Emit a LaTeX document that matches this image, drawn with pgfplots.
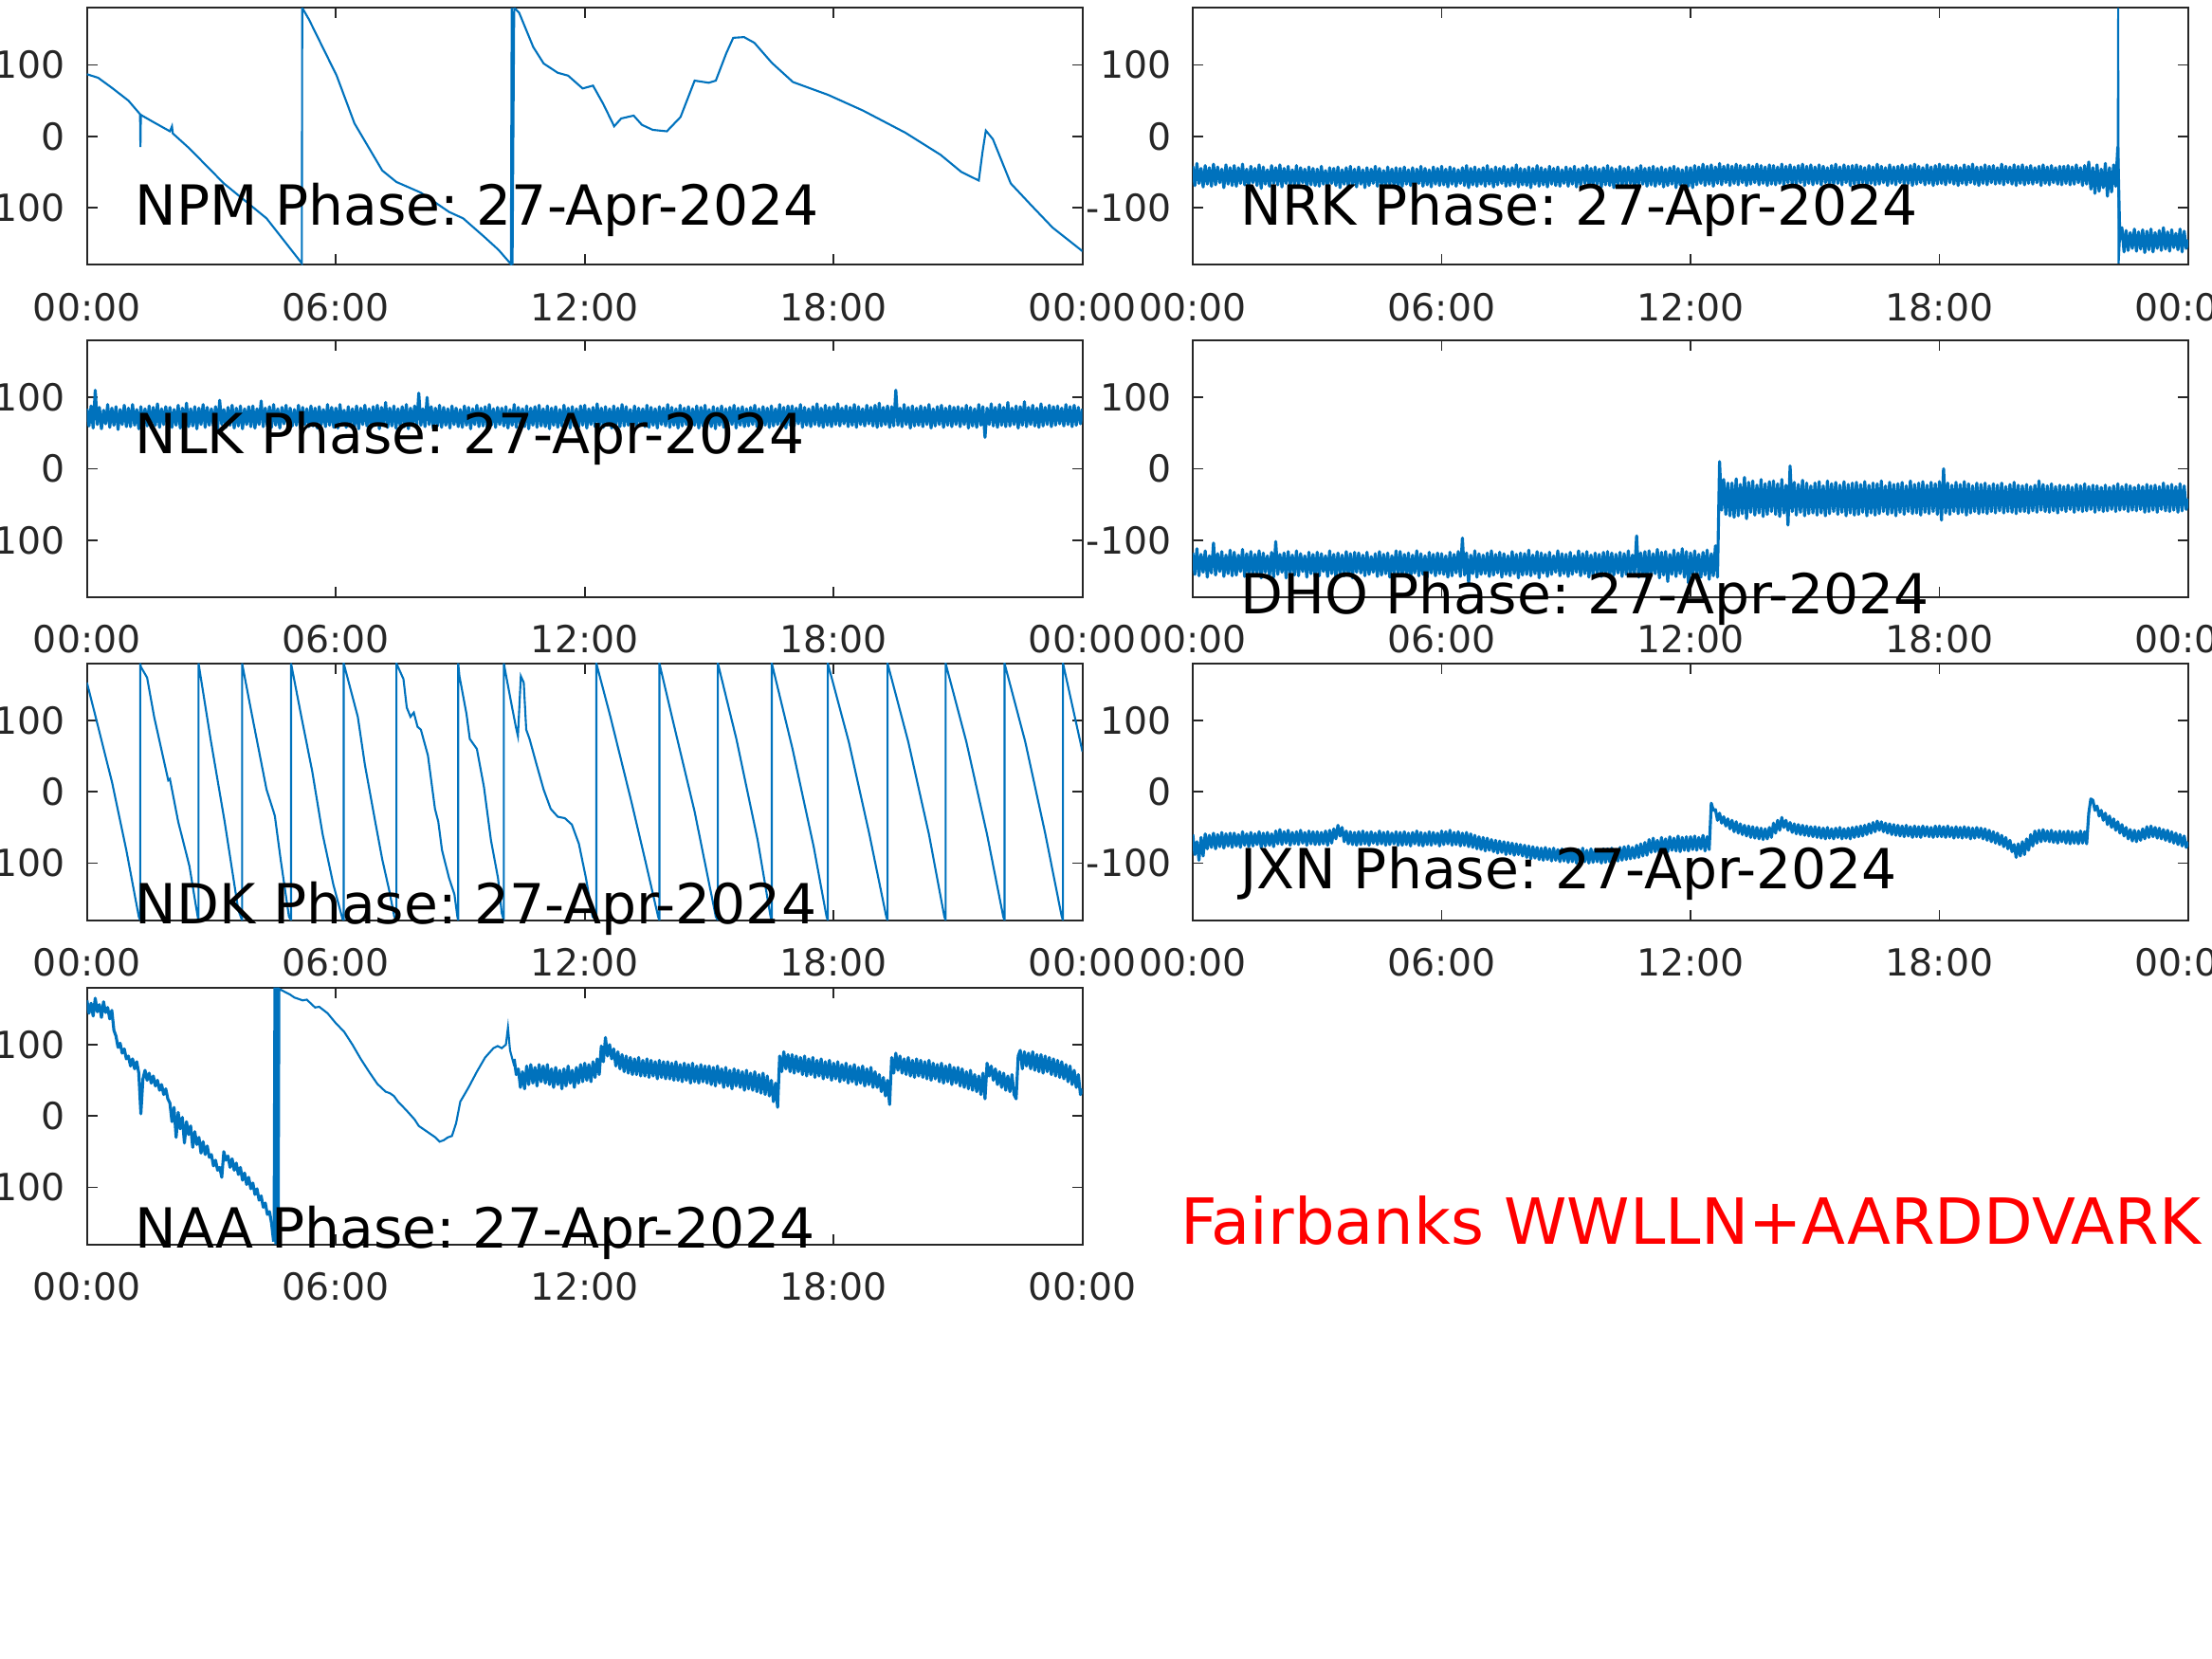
\documentclass[border=0pt]{standalone}
\usepackage{fontspec}
\setmainfont{DejaVu Sans}
\usepackage{pgfplots}
\pgfplotsset{compat=1.18}
\frenchspacing

\definecolor{mblue}{RGB}{0,114,189}
\definecolor{axgray}{RGB}{38,38,38}
\newcommand{\ticksfont}{\fontsize{11.2}{13}\selectfont}
\newcommand{\stationfont}{\fontsize{16.6}{19}\selectfont}

\pgfplotsset{
  phase/.style={
    scale only axis, width=10.50cm, height=2.71cm, anchor=south west,
    xmin=0, xmax=24, ymin=-180, ymax=180,
    xtick={0,6,12,18,24}, xticklabels={00:00,06:00,12:00,18:00,00:00},
    ytick={-100,0,100}, yticklabels={-100,0,100},
    tick align=inside, major tick length=0.11cm,
    axis line style={draw=axgray, line width=0.5pt},
    tick style={draw=axgray, line width=0.5pt},
    ticklabel style={font=\ticksfont, text=axgray, inner sep=0pt},
    xticklabel style={yshift=-0.29cm},
    yticklabel style={xshift=-0.22cm},
    clip mode=individual,
  },
  sig/.style={color=mblue, line width=0.6pt},
  dense/.style={color=mblue, line width=0.9pt, line join=round},
}

\begin{document}
\begin{tikzpicture}
\path[use as bounding box] (0,0) rectangle (23.33cm,17.50cm);

% NPM
\begin{axis}[phase, at={(0.917cm,14.707cm)}]
\addplot[sig] coordinates {(0,87)(0.27,82)(0.6,68)(1.0,50)(1.28,31)(1.29,-15)(1.30,30)(1.6,20)(2.0,7)(2.05,14)(2.07,4)(2.47,-17)(3.3,-66)(4.33,-115)(5.18,-178)(5.19,180)(5.35,164)(6.02,85)(6.45,18)(7.12,-48)(7.46,-64)(8.05,-79)(8.73,-106)(9.07,-115)(9.58,-141)(9.92,-159)(10.22,-179)(10.24,180)(10.26,-180)(10.3,180)(10.42,173)(10.76,125)(11.01,102)(11.35,89)(11.6,85)(11.95,67)(12.2,71)(12.45,45)(12.71,14)(12.88,25)(13.18,29)(13.38,16)(13.64,9)(13.98,7)(14.31,27)(14.65,78)(14.99,75)(15.16,78)(15.41,116)(15.58,138)(15.84,139)(16.09,131)(16.51,103)(17.02,76)(17.87,58)(18.71,36)(19.73,5)(20.58,-26)(21.08,-50)(21.5,-62)(21.59,-22)(21.67,8)(21.84,-4)(22.27,-66)(22.77,-97)(23.28,-128)(24,-161)};
\node[anchor=base west, inner sep=0pt, font=\stationfont] at (axis cs:1.15,-125) {NPM Phase: 27-Apr-2024};
\end{axis}

% NRK, one sample every 0.05 h
\begin{axis}[phase, at={(12.58cm,14.707cm)}]
\addplot[dense] table[row sep=\\, header=false, y index=0, x expr=\coordindex/20] {
-42\\ -69\\ -38\\ -66\\ -45\\ -71\\ -41\\ -67\\ -44\\ -70\\ -39\\ -68\\ -43\\ -65\\ -46\\ -72\\ -40\\ -67\\ -44\\ -69\\
-41\\ -70\\ -44\\ -66\\ -39\\ -68\\ -46\\ -71\\ -42\\ -65\\ -45\\ -69\\ -40\\ -73\\ -43\\ -67\\ -47\\ -70\\ -41\\ -66\\
-44\\ -68\\ -40\\ -71\\ -45\\ -66\\ -42\\ -69\\ -47\\ -67\\ -41\\ -70\\ -44\\ -65\\ -46\\ -72\\ -43\\ -68\\ -45\\ -69\\
-46\\ -70\\ -42\\ -67\\ -48\\ -71\\ -44\\ -66\\ -45\\ -69\\ -43\\ -72\\ -47\\ -67\\ -44\\ -70\\ -42\\ -68\\ -46\\ -71\\
-43\\ -67\\ -47\\ -72\\ -44\\ -69\\ -46\\ -66\\ -42\\ -70\\ -45\\ -68\\ -48\\ -71\\ -43\\ -67\\ -46\\ -69\\ -44\\ -72\\
-45\\ -70\\ -43\\ -67\\ -47\\ -69\\ -44\\ -72\\ -46\\ -66\\ -42\\ -70\\ -45\\ -68\\ -47\\ -71\\ -43\\ -67\\ -45\\ -69\\
-42\\ -68\\ -46\\ -71\\ -43\\ -67\\ -45\\ -70\\ -47\\ -66\\ -44\\ -69\\ -41\\ -72\\ -45\\ -68\\ -43\\ -70\\ -46\\ -67\\
-44\\ -70\\ -41\\ -67\\ -46\\ -71\\ -43\\ -68\\ -45\\ -66\\ -42\\ -70\\ -46\\ -69\\ -44\\ -67\\ -40\\ -71\\ -45\\ -68\\
-46\\ -69\\ -43\\ -72\\ -45\\ -67\\ -41\\ -70\\ -44\\ -68\\ -46\\ -71\\ -42\\ -67\\ -45\\ -69\\ -43\\ -70\\ -47\\ -66\\
-43\\ -70\\ -45\\ -67\\ -42\\ -71\\ -46\\ -68\\ -44\\ -66\\ -41\\ -70\\ -45\\ -69\\ -43\\ -67\\ -46\\ -71\\ -44\\ -68\\
-41\\ -69\\ -44\\ -72\\ -46\\ -67\\ -42\\ -70\\ -45\\ -68\\ -43\\ -66\\ -47\\ -71\\ -44\\ -69\\ -41\\ -67\\ -45\\ -70\\
-44\\ -68\\ -42\\ -70\\ -45\\ -67\\ -43\\ -71\\ -46\\ -69\\ -44\\ -67\\ -42\\ -72\\ -45\\ -68\\ -47\\ -73\\ -43\\ -70\\
-44\\ -72\\ -41\\ -68\\ -43\\ -66\\ -39\\ -69\\ -42\\ -67\\ -40\\ -70\\ -43\\ -66\\ -38\\ -68\\ -42\\ -65\\ -40\\ -69\\
-42\\ -66\\ -39\\ -68\\ -41\\ -65\\ -43\\ -69\\ -40\\ -67\\ -42\\ -65\\ -39\\ -68\\ -41\\ -66\\ -43\\ -69\\ -40\\ -67\\
-41\\ -68\\ -43\\ -66\\ -39\\ -69\\ -42\\ -65\\ -40\\ -67\\ -43\\ -68\\ -41\\ -65\\ -39\\ -69\\ -42\\ -66\\ -40\\ -68\\
-43\\ -66\\ -40\\ -68\\ -42\\ -65\\ -44\\ -69\\ -41\\ -67\\ -39\\ -66\\ -43\\ -68\\ -40\\ -65\\ -42\\ -69\\ -41\\ -67\\
-40\\ -67\\ -42\\ -65\\ -44\\ -69\\ -41\\ -66\\ -43\\ -68\\ -39\\ -67\\ -42\\ -65\\ -44\\ -69\\ -40\\ -66\\ -43\\ -68\\
-42\\ -65\\ -40\\ -68\\ -43\\ -66\\ -41\\ -69\\ -39\\ -67\\ -42\\ -65\\ -44\\ -68\\ -40\\ -66\\ -43\\ -69\\ -41\\ -67\\
-39\\ -66\\ -42\\ -68\\ -40\\ -65\\ -43\\ -67\\ -41\\ -69\\ -44\\ -66\\ -40\\ -68\\ -42\\ -65\\ -39\\ -67\\ -43\\ -69\\
-43\\ -66\\ -40\\ -68\\ -42\\ -65\\ -41\\ -67\\ -44\\ -66\\ -39\\ -68\\ -42\\ -65\\ -43\\ -67\\ -40\\ -69\\ -42\\ -66\\
-40\\ -68\\ -43\\ -66\\ -41\\ -67\\ -44\\ -65\\ -42\\ -69\\ -40\\ -66\\ -43\\ -68\\ -41\\ -65\\ -44\\ -67\\ -42\\ -68\\
-42\\ -66\\ -41\\ -68\\ -43\\ -67\\ -40\\ -65\\ -44\\ -69\\ -41\\ -67\\ -36\\ -74\\ -44\\ -80\\ -40\\ -77\\ -46\\ -72\\
-38\\ -84\\ -44\\ -78\\ -40\\ -70\\ -15\\ -145\\ -128\\ -162\\ -132\\ -160\\ -135\\ -157\\ -130\\ -161\\ -134\\ -158\\ -131\\ -163\\
-133\\ -159\\ -130\\ -162\\ -135\\ -157\\ -132\\ -160\\ -128\\ -158\\ -134\\ -161\\ -131\\ -156\\ -136\\ -159\\ -130\\ -162\\ -133\\ -157\\
-145\\
};
\addplot[sig] coordinates {(22.30,-15)(22.31,180)(22.32,-178)(22.35,-145)};
\node[anchor=base west, inner sep=0pt, font=\stationfont] at (axis cs:1.14,-125) {NRK Phase: 27-Apr-2024};
\end{axis}

% NLK, one sample every 0.05 h
\begin{axis}[phase, at={(0.917cm,11.20cm)}]
\addplot[dense] table[row sep=\\, header=false, y index=0, x expr=\coordindex/20] {
84\\ 60\\ 88\\ 57\\ 110\\ 62\\ 86\\ 56\\ 82\\ 63\\ 90\\ 58\\ 85\\ 61\\ 87\\ 55\\ 83\\ 62\\ 89\\ 59\\
85\\ 59\\ 90\\ 61\\ 83\\ 56\\ 87\\ 62\\ 84\\ 60\\ 88\\ 57\\ 86\\ 61\\ 91\\ 58\\ 84\\ 62\\ 87\\ 60\\
86\\ 58\\ 83\\ 61\\ 89\\ 57\\ 85\\ 63\\ 92\\ 59\\ 84\\ 60\\ 87\\ 56\\ 85\\ 62\\ 90\\ 58\\ 86\\ 61\\
84\\ 60\\ 87\\ 55\\ 96\\ 62\\ 83\\ 58\\ 86\\ 61\\ 89\\ 57\\ 85\\ 60\\ 88\\ 56\\ 84\\ 62\\ 87\\ 59\\
88\\ 57\\ 84\\ 62\\ 95\\ 59\\ 85\\ 60\\ 87\\ 58\\ 90\\ 61\\ 84\\ 57\\ 86\\ 63\\ 89\\ 58\\ 85\\ 60\\
83\\ 61\\ 89\\ 56\\ 86\\ 62\\ 84\\ 59\\ 88\\ 60\\ 85\\ 57\\ 87\\ 62\\ 83\\ 59\\ 90\\ 61\\ 86\\ 58\\
85\\ 57\\ 90\\ 63\\ 82\\ 58\\ 87\\ 61\\ 84\\ 59\\ 88\\ 56\\ 85\\ 62\\ 89\\ 60\\ 84\\ 57\\ 87\\ 61\\
89\\ 56\\ 86\\ 62\\ 93\\ 58\\ 85\\ 60\\ 88\\ 57\\ 84\\ 61\\ 87\\ 59\\ 90\\ 56\\ 85\\ 62\\ 88\\ 60\\
106\\ 61\\ 84\\ 59\\ 100\\ 62\\ 87\\ 57\\ 85\\ 60\\ 89\\ 58\\ 86\\ 61\\ 84\\ 57\\ 88\\ 62\\ 85\\ 59\\
83\\ 58\\ 88\\ 61\\ 86\\ 56\\ 84\\ 62\\ 89\\ 59\\ 85\\ 60\\ 87\\ 57\\ 90\\ 61\\ 84\\ 58\\ 86\\ 62\\
85\\ 60\\ 87\\ 57\\ 83\\ 61\\ 90\\ 58\\ 86\\ 62\\ 84\\ 59\\ 88\\ 56\\ 85\\ 61\\ 87\\ 58\\ 89\\ 60\\
84\\ 59\\ 88\\ 56\\ 85\\ 61\\ 87\\ 58\\ 83\\ 60\\ 89\\ 62\\ 85\\ 57\\ 87\\ 60\\ 84\\ 58\\ 88\\ 61\\
89\\ 57\\ 84\\ 62\\ 86\\ 59\\ 91\\ 60\\ 85\\ 58\\ 87\\ 61\\ 84\\ 57\\ 88\\ 62\\ 85\\ 59\\ 90\\ 60\\
87\\ 61\\ 83\\ 57\\ 88\\ 60\\ 85\\ 62\\ 84\\ 59\\ 89\\ 58\\ 86\\ 61\\ 84\\ 57\\ 87\\ 62\\ 85\\ 60\\
90\\ 58\\ 86\\ 61\\ 84\\ 57\\ 89\\ 60\\ 85\\ 62\\ 87\\ 59\\ 84\\ 61\\ 88\\ 57\\ 86\\ 60\\ 89\\ 62\\
83\\ 59\\ 87\\ 56\\ 85\\ 61\\ 88\\ 58\\ 84\\ 60\\ 86\\ 62\\ 89\\ 57\\ 85\\ 61\\ 87\\ 59\\ 84\\ 60\\
86\\ 62\\ 89\\ 59\\ 84\\ 57\\ 87\\ 61\\ 85\\ 58\\ 88\\ 60\\ 84\\ 62\\ 90\\ 59\\ 86\\ 57\\ 88\\ 61\\
88\\ 60\\ 85\\ 63\\ 90\\ 58\\ 86\\ 61\\ 84\\ 59\\ 87\\ 62\\ 91\\ 60\\ 85\\ 58\\ 89\\ 61\\ 86\\ 59\\
87\\ 62\\ 91\\ 60\\ 85\\ 63\\ 88\\ 59\\ 86\\ 61\\ 90\\ 58\\ 87\\ 62\\ 84\\ 60\\ 89\\ 63\\ 86\\ 60\\
89\\ 58\\ 92\\ 60\\ 86\\ 62\\ 88\\ 58\\ 87\\ 60\\ 110\\ 61\\ 85\\ 59\\ 90\\ 62\\ 86\\ 57\\ 88\\ 60\\
85\\ 61\\ 88\\ 59\\ 86\\ 62\\ 90\\ 57\\ 84\\ 60\\ 87\\ 62\\ 89\\ 58\\ 85\\ 61\\ 88\\ 59\\ 86\\ 62\\
87\\ 59\\ 85\\ 62\\ 89\\ 57\\ 86\\ 60\\ 84\\ 58\\ 90\\ 61\\ 87\\ 44\\ 85\\ 62\\ 91\\ 60\\ 86\\ 58\\
90\\ 61\\ 86\\ 59\\ 93\\ 60\\ 85\\ 62\\ 88\\ 57\\ 87\\ 61\\ 94\\ 59\\ 86\\ 62\\ 89\\ 60\\ 85\\ 58\\
91\\ 60\\ 86\\ 62\\ 89\\ 59\\ 87\\ 61\\ 88\\ 63\\ 85\\ 60\\ 90\\ 62\\ 87\\ 59\\ 89\\ 61\\ 86\\ 63\\
84\\
};
\node[anchor=base west, inner sep=0pt, font=\stationfont] at (axis cs:1.15,20.6) {NLK Phase: 27-Apr-2024};
\end{axis}

% DHO, one sample every 0.05 h
\begin{axis}[phase, at={(12.58cm,11.20cm)}]
\addplot[dense] table[row sep=\\, header=false, y index=0, x expr=\coordindex/20] {
-118\\ -148\\ -112\\ -150\\ -120\\ -145\\ -115\\ -152\\ -122\\ -146\\ -104\\ -149\\ -119\\ -144\\ -116\\ -151\\ -121\\ -147\\ -114\\ -150\\
-117\\ -149\\ -121\\ -144\\ -113\\ -151\\ -119\\ -147\\ -116\\ -150\\ -120\\ -146\\ -115\\ -153\\ -118\\ -145\\ -122\\ -149\\ -117\\ -152\\
-102\\ -148\\ -120\\ -145\\ -118\\ -153\\ -116\\ -146\\ -121\\ -149\\ -115\\ -150\\ -119\\ -144\\ -122\\ -152\\ -117\\ -147\\ -120\\ -151\\
-117\\ -150\\ -119\\ -144\\ -122\\ -151\\ -115\\ -147\\ -120\\ -152\\ -118\\ -146\\ -121\\ -150\\ -116\\ -148\\ -119\\ -153\\ -117\\ -145\\
-118\\ -146\\ -121\\ -150\\ -117\\ -148\\ -123\\ -145\\ -119\\ -151\\ -116\\ -149\\ -120\\ -147\\ -118\\ -152\\ -122\\ -146\\ -115\\ -150\\
-116\\ -149\\ -120\\ -147\\ -118\\ -155\\ -121\\ -146\\ -115\\ -150\\ -119\\ -148\\ -122\\ -152\\ -117\\ -146\\ -120\\ -150\\ -118\\ -147\\
-119\\ -148\\ -122\\ -152\\ -117\\ -150\\ -120\\ -146\\ -116\\ -151\\ -97\\ -149\\ -118\\ -160\\ -121\\ -147\\ -115\\ -152\\ -119\\ -148\\
-121\\ -147\\ -118\\ -151\\ -115\\ -149\\ -120\\ -146\\ -117\\ -152\\ -119\\ -148\\ -122\\ -150\\ -116\\ -147\\ -120\\ -153\\ -118\\ -149\\
-119\\ -148\\ -114\\ -150\\ -121\\ -147\\ -116\\ -153\\ -118\\ -146\\ -120\\ -151\\ -117\\ -148\\ -122\\ -145\\ -115\\ -150\\ -119\\ -147\\
-120\\ -151\\ -117\\ -148\\ -122\\ -145\\ -115\\ -150\\ -119\\ -147\\ -116\\ -152\\ -121\\ -149\\ -118\\ -146\\ -120\\ -151\\ -117\\ -148\\
-116\\ -152\\ -118\\ -149\\ -120\\ -146\\ -117\\ -151\\ -119\\ -148\\ -115\\ -150\\ -121\\ -147\\ -94\\ -152\\ -118\\ -149\\ -116\\ -155\\
-115\\ -150\\ -119\\ -147\\ -113\\ -153\\ -117\\ -149\\ -116\\ -158\\ -120\\ -148\\ -114\\ -151\\ -118\\ -147\\ -112\\ -152\\ -116\\ -160\\
-118\\ -150\\ -115\\ -148\\ -120\\ -152\\ -117\\ -149\\ -114\\ -155\\ -119\\ -150\\ -108\\ -152\\ 10\\ -58\\ -15\\ -64\\ -20\\ -66\\
-20\\ -68\\ -14\\ -66\\ -22\\ -63\\ -12\\ -70\\ -19\\ -61\\ -17\\ -65\\ -23\\ -62\\ -15\\ -67\\ -21\\ -64\\ -18\\ -60\\
-17\\ -64\\ -21\\ -67\\ -15\\ -62\\ -23\\ -79\\ 4\\ -60\\ -19\\ -65\\ -22\\ -61\\ -16\\ -66\\ -20\\ -63\\ -24\\ -62\\
-20\\ -65\\ -18\\ -62\\ -24\\ -66\\ -17\\ -63\\ -21\\ -60\\ -19\\ -64\\ -23\\ -61\\ -18\\ -66\\ -22\\ -62\\ -20\\ -65\\
-19\\ -64\\ -22\\ -61\\ -18\\ -66\\ -23\\ -62\\ -20\\ -65\\ -21\\ -63\\ -17\\ -60\\ -24\\ -64\\ -19\\ -62\\ -22\\ -66\\
-21\\ -61\\ -19\\ -64\\ -24\\ -60\\ -17\\ -63\\ -22\\ -62\\ -20\\ -65\\ -18\\ -61\\ -23\\ -63\\ -19\\ -60\\ -21\\ -64\\
-18\\ -72\\ 0\\ -62\\ -20\\ -64\\ -23\\ -60\\ -19\\ -63\\ -22\\ -61\\ -18\\ -65\\ -21\\ -62\\ -24\\ -60\\ -20\\ -63\\
-22\\ -61\\ -20\\ -63\\ -24\\ -60\\ -21\\ -62\\ -23\\ -59\\ -20\\ -62\\ -25\\ -60\\ -22\\ -61\\ -19\\ -63\\ -23\\ -60\\
-24\\ -60\\ -22\\ -62\\ -25\\ -59\\ -23\\ -61\\ -17\\ -58\\ -22\\ -60\\ -24\\ -61\\ -21\\ -59\\ -25\\ -62\\ -23\\ -58\\
-25\\ -60\\ -23\\ -57\\ -26\\ -61\\ -22\\ -58\\ -24\\ -60\\ -21\\ -59\\ -25\\ -57\\ -23\\ -61\\ -24\\ -58\\ -26\\ -60\\
-23\\ -59\\ -26\\ -57\\ -24\\ -60\\ -21\\ -58\\ -25\\ -57\\ -22\\ -60\\ -24\\ -58\\ -26\\ -59\\ -23\\ -57\\ -25\\ -61\\
-22\\ -60\\ -24\\ -58\\ -23\\ -61\\ -25\\ -57\\ -20\\ -59\\ -24\\ -60\\ -22\\ -58\\ -25\\ -61\\ -21\\ -59\\ -24\\ -57\\
-42\\
};
\node[anchor=base west, inner sep=0pt, font=\stationfont] at (axis cs:1.14,-203) {DHO Phase: 27-Apr-2024};
\end{axis}

% NDK
\begin{axis}[phase, at={(0.917cm,7.793cm)}]
\addplot[sig] coordinates {(0,153)(0.27,91)(0.61,12)(0.95,-82)(1.25,-175)(1.285,-180)(1.285,180)
(1.3,175)(1.45,160)(1.62,105)(1.96,16)(2.0,18)(2.2,-42)(2.47,-104)(2.67,-175)(2.69,-180)(2.69,180)
(2.98,74)(3.32,-42)(3.65,-166)(3.74,-180)(3.74,180)
(3.99,104)(4.33,3)(4.5,-28)(4.53,-34)(4.67,-95)(4.87,-175)(4.92,-180)(4.92,180)
(5.17,105)(5.43,29)(5.68,-59)(5.94,-130)(6.16,-178)(6.19,-180)(6.19,180)
(6.53,105)(6.7,38)(6.95,-42)(7.12,-95)(7.29,-139)(7.41,-175)(7.46,-180)(7.46,180)
(7.63,158)(7.71,118)(7.8,105)(7.88,111)(7.97,91)(8.05,87)(8.22,51)(8.39,-24)(8.47,-42)(8.56,-82)(8.73,-121)(8.86,-144)(8.93,-175)(8.95,-180)(8.95,180)
(8.98,162)(9.15,109)(9.23,74)(9.4,60)(9.57,7)(9.74,-68)(9.91,-121)(10.0,-170)(10.05,-180)(10.05,180)
(10.12,158)(10.25,118)(10.34,91)(10.39,78)(10.46,162)(10.53,153)(10.59,87)(10.67,74)(10.84,38)(11.01,3)(11.18,-24)(11.35,-35)(11.52,-37)(11.69,-46)(11.86,-73)(12.03,-121)(12.19,-175)(12.28,-180)(12.28,180)
(12.62,105)(13.13,-15)(13.47,-99)(13.77,-175)(13.80,-180)(13.80,180)
(14.14,96)(14.65,-28)(15.16,-175)(15.21,-180)(15.21,180)
(15.66,73)(16.17,-68)(16.48,-175)(16.51,-180)(16.51,180)
(17.01,60)(17.52,-77)(17.83,-175)(17.86,-180)(17.86,180)
(18.37,69)(18.86,-59)(19.27,-175)(19.30,-180)(19.30,180)
(19.8,70)(20.3,-60)(20.67,-175)(20.70,-180)(20.70,180)
(21.2,70)(21.7,-60)(22.09,-175)(22.12,-180)(22.12,180)
(22.62,70)(23.1,-58)(23.5,-175)(23.53,-180)(23.53,180)
(24,56)};
\node[anchor=base west, inner sep=0pt, font=\stationfont] at (axis cs:1.15,-185) {NDK Phase: 27-Apr-2024};
\end{axis}

% JXN, one sample every 0.05 h
\begin{axis}[phase, at={(12.58cm,7.793cm)}]
\addplot[dense] table[row sep=\\, header=false, y index=0, x expr=\coordindex/20] {
-60\\ -88\\ -70\\ -96\\ -64\\ -90\\ -59\\ -80\\ -61\\ -78\\ -58\\ -80\\ -60\\ -77\\ -57\\ -79\\ -59\\ -76\\ -58\\ -78\\
-58\\ -76\\ -60\\ -78\\ -56\\ -75\\ -59\\ -77\\ -57\\ -76\\ -59\\ -74\\ -56\\ -78\\ -58\\ -76\\ -57\\ -75\\ -59\\ -77\\
-55\\ -73\\ -53\\ -74\\ -56\\ -72\\ -54\\ -75\\ -57\\ -73\\ -56\\ -74\\ -54\\ -72\\ -57\\ -75\\ -55\\ -73\\ -56\\ -74\\
-56\\ -74\\ -57\\ -73\\ -55\\ -75\\ -54\\ -72\\ -52\\ -66\\ -47\\ -62\\ -50\\ -70\\ -55\\ -73\\ -56\\ -74\\ -57\\ -75\\
-56\\ -74\\ -55\\ -73\\ -57\\ -75\\ -56\\ -72\\ -58\\ -74\\ -55\\ -73\\ -57\\ -75\\ -56\\ -74\\ -58\\ -73\\ -56\\ -75\\
-57\\ -75\\ -56\\ -74\\ -58\\ -76\\ -57\\ -73\\ -55\\ -75\\ -57\\ -76\\ -58\\ -74\\ -56\\ -75\\ -57\\ -73\\ -58\\ -76\\
-55\\ -74\\ -56\\ -73\\ -54\\ -75\\ -57\\ -74\\ -56\\ -76\\ -58\\ -75\\ -57\\ -77\\ -59\\ -78\\ -61\\ -80\\ -63\\ -81\\
-64\\ -83\\ -65\\ -82\\ -67\\ -84\\ -68\\ -86\\ -69\\ -85\\ -70\\ -88\\ -71\\ -87\\ -72\\ -89\\ -73\\ -88\\ -74\\ -90\\
-75\\ -92\\ -76\\ -94\\ -77\\ -93\\ -78\\ -95\\ -79\\ -96\\ -78\\ -95\\ -80\\ -97\\ -79\\ -96\\ -81\\ -98\\ -80\\ -97\\
-81\\ -99\\ -80\\ -98\\ -82\\ -100\\ -81\\ -99\\ -79\\ -98\\ -82\\ -100\\ -80\\ -99\\ -81\\ -98\\ -82\\ -100\\ -80\\ -99\\
-80\\ -98\\ -79\\ -96\\ -81\\ -97\\ -78\\ -96\\ -77\\ -95\\ -76\\ -94\\ -78\\ -93\\ -75\\ -92\\ -73\\ -90\\ -71\\ -89\\
-67\\ -85\\ -65\\ -84\\ -68\\ -86\\ -64\\ -83\\ -66\\ -84\\ -63\\ -82\\ -65\\ -83\\ -62\\ -84\\ -64\\ -82\\ -63\\ -83\\
-63\\ -81\\ -62\\ -82\\ -64\\ -80\\ -61\\ -83\\ -63\\ -81\\ -16\\ -26\\ -25\\ -40\\ -30\\ -44\\ -35\\ -48\\ -38\\ -52\\
-40\\ -56\\ -42\\ -58\\ -45\\ -60\\ -47\\ -62\\ -48\\ -64\\ -49\\ -65\\ -50\\ -66\\ -51\\ -67\\ -52\\ -66\\ -50\\ -64\\
-44\\ -58\\ -40\\ -54\\ -36\\ -50\\ -40\\ -54\\ -43\\ -57\\ -45\\ -59\\ -46\\ -60\\ -47\\ -61\\ -48\\ -62\\ -49\\ -63\\
-49\\ -64\\ -50\\ -65\\ -51\\ -66\\ -50\\ -65\\ -52\\ -66\\ -51\\ -64\\ -50\\ -66\\ -52\\ -65\\ -51\\ -66\\ -50\\ -64\\
-49\\ -63\\ -48\\ -62\\ -47\\ -60\\ -45\\ -58\\ -43\\ -56\\ -41\\ -54\\ -42\\ -56\\ -44\\ -58\\ -45\\ -60\\ -46\\ -61\\
-47\\ -62\\ -48\\ -63\\ -47\\ -62\\ -49\\ -64\\ -48\\ -63\\ -49\\ -64\\ -48\\ -62\\ -49\\ -63\\ -50\\ -64\\ -48\\ -63\\
-48\\ -63\\ -49\\ -64\\ -48\\ -63\\ -50\\ -65\\ -49\\ -64\\ -50\\ -65\\ -49\\ -64\\ -50\\ -66\\ -51\\ -65\\ -50\\ -64\\
-51\\ -66\\ -52\\ -68\\ -54\\ -70\\ -56\\ -72\\ -58\\ -74\\ -61\\ -77\\ -64\\ -80\\ -68\\ -84\\ -74\\ -92\\ -73\\ -90\\
-70\\ -88\\ -66\\ -82\\ -60\\ -76\\ -55\\ -72\\ -54\\ -70\\ -53\\ -69\\ -55\\ -70\\ -54\\ -71\\ -56\\ -72\\ -55\\ -70\\
-56\\ -72\\ -55\\ -73\\ -56\\ -72\\ -57\\ -73\\ -55\\ -72\\ -56\\ -73\\ -30\\ -10\\ -12\\ -26\\ -20\\ -34\\ -26\\ -40\\
-30\\ -46\\ -34\\ -50\\ -38\\ -54\\ -42\\ -58\\ -46\\ -62\\ -50\\ -66\\ -53\\ -69\\ -54\\ -70\\ -55\\ -68\\ -52\\ -66\\
-49\\ -64\\ -48\\ -63\\ -50\\ -65\\ -51\\ -66\\ -53\\ -68\\ -54\\ -70\\ -56\\ -72\\ -58\\ -74\\ -60\\ -76\\ -62\\ -78\\
-70\\
};
\node[anchor=base west, inner sep=0pt, font=\stationfont] at (axis cs:1.14,-136.5) {JXN Phase: 27-Apr-2024};
\end{axis}

% NAA
\begin{axis}[phase, at={(0.917cm,4.373cm)}]
% 00:00 to 04:30, one sample every 0.05 h
\addplot[dense] table[row sep=\\, header=false, y index=0, x expr=\coordindex/20] {
162\\ 144\\ 158\\ 140\\ 165\\ 146\\ 156\\ 138\\ 160\\ 145\\ 152\\ 136\\ 148\\ 120\\ 112\\ 96\\ 102\\ 88\\ 94\\ 80\\
84\\ 70\\ 80\\ 66\\ 76\\ 60\\ 3\\ 52\\ 64\\ 50\\ 60\\ 46\\ 56\\ 42\\ 50\\ 36\\ 44\\ 30\\ 38\\ 24\\
18\\ -8\\ 12\\ -30\\ 5\\ -18\\ -2\\ -38\\ -8\\ -26\\ -14\\ -44\\ -22\\ -40\\ -30\\ -52\\ -36\\ -54\\ -42\\ -58\\
-54\\ -70\\ -62\\ -76\\ -72\\ -86\\ -50\\ -62\\ -56\\ -72\\ -60\\ -76\\ -66\\ -82\\ -72\\ -90\\ -80\\ -96\\ -86\\ -102\\
-94\\ -110\\ -102\\ -118\\ -112\\ -128\\ -122\\ -138\\ -134\\ -150\\ -176\\
};
% 04:30 to 10:18
\addplot[sig] coordinates {(4.50,-176)(4.52,180)(4.54,-180)(4.56,180)(4.58,-180)(4.60,180)(4.62,-180)(4.64,178)(4.7,176)(4.9,170)(5.0,166)(5.2,162)(5.3,163)(5.5,152)(5.6,153)(5.8,144)(6.0,130)(6.2,118)(6.4,100)(6.6,80)(6.8,62)(7.0,45)(7.2,34)(7.3,32)(7.4,28)(7.5,20)(7.7,8)(7.9,-5)(8.0,-14)(8.2,-22)(8.4,-30)(8.5,-36)(8.6,-34)(8.7,-30)(8.8,-28)(8.9,-10)(9.0,20)(9.2,40)(9.4,62)(9.6,82)(9.8,95)(9.9,98)(10.0,95)(10.1,100)(10.15,124)(10.2,92)(10.3,70)};
% 10:18 to 24:00, one sample every 0.05 h
\addplot[dense] table[row sep=\\, header=false, y index=0, x expr=10.3+\coordindex/20] {
80\\ 58\\ 66\\ 40\\ 62\\ 38\\ 70\\ 44\\ 72\\ 46\\ 68\\ 42\\ 72\\ 48\\
70\\ 46\\ 72\\ 44\\ 66\\ 40\\ 68\\ 44\\ 64\\ 38\\ 66\\ 42\\ 70\\ 46\\ 64\\ 40\\ 68\\ 46\\ 72\\ 48\\
74\\ 50\\ 72\\ 48\\ 76\\ 54\\ 80\\ 58\\ 98\\ 76\\ 110\\ 84\\ 100\\ 80\\ 94\\ 70\\ 90\\ 66\\ 86\\ 62\\
84\\ 60\\ 82\\ 58\\ 80\\ 58\\ 82\\ 56\\ 78\\ 56\\ 80\\ 54\\ 78\\ 56\\ 76\\ 52\\ 78\\ 54\\ 76\\ 52\\
76\\ 52\\ 74\\ 50\\ 76\\ 50\\ 72\\ 48\\ 74\\ 50\\ 72\\ 46\\ 74\\ 48\\ 70\\ 46\\ 72\\ 48\\ 70\\ 46\\
70\\ 44\\ 68\\ 42\\ 70\\ 46\\ 66\\ 40\\ 68\\ 42\\ 64\\ 38\\ 66\\ 42\\ 64\\ 40\\ 62\\ 36\\ 64\\ 38\\
60\\ 36\\ 62\\ 34\\ 58\\ 32\\ 60\\ 30\\ 56\\ 28\\ 50\\ 20\\ 46\\ 12\\ 84\\ 62\\ 90\\ 66\\ 86\\ 62\\
86\\ 60\\ 84\\ 62\\ 82\\ 58\\ 84\\ 56\\ 80\\ 58\\ 82\\ 54\\ 78\\ 56\\ 80\\ 52\\ 76\\ 54\\ 78\\ 50\\
74\\ 52\\ 76\\ 48\\ 72\\ 50\\ 74\\ 46\\ 70\\ 48\\ 72\\ 44\\ 68\\ 46\\ 70\\ 42\\ 66\\ 44\\ 68\\ 40\\
62\\ 40\\ 58\\ 34\\ 54\\ 28\\ 50\\ 16\\ 82\\ 60\\ 88\\ 64\\ 84\\ 60\\ 80\\ 58\\ 82\\ 56\\ 78\\ 54\\
80\\ 56\\ 78\\ 54\\ 76\\ 52\\ 78\\ 50\\ 74\\ 52\\ 72\\ 48\\ 74\\ 46\\ 70\\ 48\\ 72\\ 44\\ 68\\ 46\\
68\\ 42\\ 66\\ 40\\ 62\\ 38\\ 64\\ 36\\ 58\\ 34\\ 56\\ 30\\ 60\\ 24\\ 74\\ 56\\ 70\\ 50\\ 66\\ 44\\
62\\ 40\\ 60\\ 36\\ 56\\ 34\\ 58\\ 30\\ 24\\ 84\\ 92\\ 66\\ 90\\ 70\\ 88\\ 66\\ 90\\ 64\\ 86\\ 62\\
86\\ 60\\ 84\\ 62\\ 82\\ 58\\ 80\\ 56\\ 78\\ 54\\ 76\\ 52\\ 72\\ 48\\ 70\\ 44\\ 64\\ 40\\ 58\\ 30\\
38\\
};
\node[anchor=base west, inner sep=0pt, font=\stationfont] at (axis cs:1.15,-185) {NAA Phase: 27-Apr-2024};
\end{axis}

\node[anchor=base west, inner sep=0pt, text=red, font=\fontsize{19.1}{22}\selectfont] at (12.445cm,4.37cm) {Fairbanks WWLLN+AARDDVARK};
\end{tikzpicture}
\end{document}
